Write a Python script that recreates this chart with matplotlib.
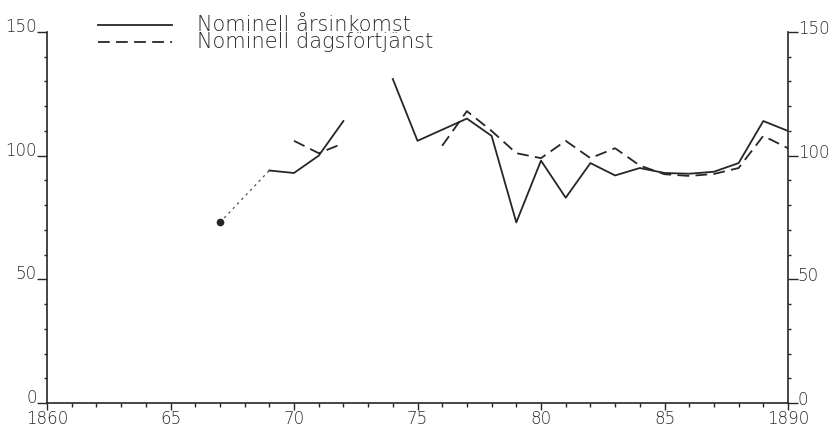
import numpy as np
import matplotlib.pyplot as plt
from matplotlib.lines import Line2D
from matplotlib.ticker import MultipleLocator

# nominell årsinkomst (solid), gap at 1873
ink_years = list(range(1869, 1891))
ink_vals = [94, 93, 100, 114, np.nan, 131, 106, 110.5, 115, 108, 73, 98, 83,
            97, 92, 95, 93, 92.7, 93.5, 97, 114, 110]

# nominell dagsförtjänst (dashed), gap 1873-75
dag_years = list(range(1870, 1891))
dag_vals = [106, 101, 105, np.nan, np.nan, np.nan, 104, 118, 110, 101, 99, 106,
            99, 103, 96, 92.5, 91.8, 92.6, 95, 108, 103]

# dotted link from the single 1867 observation
link_years = [1867, 1869]
link_vals = [73, 94]

ytick_vals = [0, 50, 100, 150]
xtick_vals = [1860, 1865, 1870, 1875, 1880, 1885, 1890]
xtick_lbls = ['1860', '65', '70', '75', '80', '85', '1890']
legend_lbls = ['Nominell årsinkomst', 'Nominell dagsförtjänst']

ink = '#262626'
txt = '#2a2a2a'

fig = plt.figure(figsize=(8.35, 4.36), dpi=100)
ax = fig.add_axes([47/835, 1-403/436, 741/835, 371/436])

ax.plot(link_years, link_vals, color='#555555', lw=0.9, ls=(0, (2, 3)))
ax.plot(link_years[:1], link_vals[:1], 'o', color=ink, ms=4.5)
ax.plot(ink_years, ink_vals, color=ink, lw=1.3)
ax.plot(dag_years, dag_vals, color=ink, lw=1.3, ls=(0, (6.5, 3.5)))

ax.set_xlim(1860, 1890)
ax.set_ylim(0, 150)
ax.spines['top'].set_visible(False)
for s in ['left', 'right', 'bottom']:
    ax.spines[s].set_linewidth(1.2)
    ax.spines[s].set_color(ink)

ax.xaxis.set_major_locator(MultipleLocator(5))
ax.xaxis.set_minor_locator(MultipleLocator(1))
ax.yaxis.set_major_locator(MultipleLocator(50))
ax.yaxis.set_minor_locator(MultipleLocator(10))
ax.tick_params(which='both', direction='out', color=ink, width=1.0,
               left=True, right=True, labelleft=False, labelbottom=False)
ax.tick_params(axis='y', which='major', length=7)
ax.tick_params(axis='y', which='minor', length=2.5)
ax.tick_params(axis='x', which='major', length=5)
ax.tick_params(axis='x', which='minor', length=3)

lab_font = dict(fontsize=12, color=txt, fontweight='light')
ytr = ax.get_yaxis_transform()
for v in ytick_vals:
    ax.annotate(str(v), xy=(0, v), xycoords=ytr, xytext=(-7.5, 0),
                textcoords='offset points', ha='right', va='baseline', **lab_font)
    ax.annotate(str(v), xy=(1, v), xycoords=ytr, xytext=(7, -1.5),
                textcoords='offset points', ha='left', va='baseline', **lab_font)
xtr = ax.get_xaxis_transform()
for v, l in zip(xtick_vals, xtick_lbls):
    ax.annotate(l, xy=(v, 0), xycoords=xtr, xytext=(0, -5),
                textcoords='offset points', ha='center', va='top', **lab_font)

# hand-drawn style legend at top left
fig.add_artist(Line2D([98/835, 172/835], [1-25/436, 1-25/436], color=ink, lw=1.3))
fig.add_artist(Line2D([98/835, 172/835], [1-42/436, 1-42/436], color=ink, lw=1.3,
                      ls=(0, (6.5, 3.5))))
fig.text(197/835, 1-33.5/436, '\n'.join(legend_lbls), ha='left', va='center',
         color=txt, fontsize=15, fontweight='light', linespacing=0.85)

fig.savefig('out.png', dpi=100)
